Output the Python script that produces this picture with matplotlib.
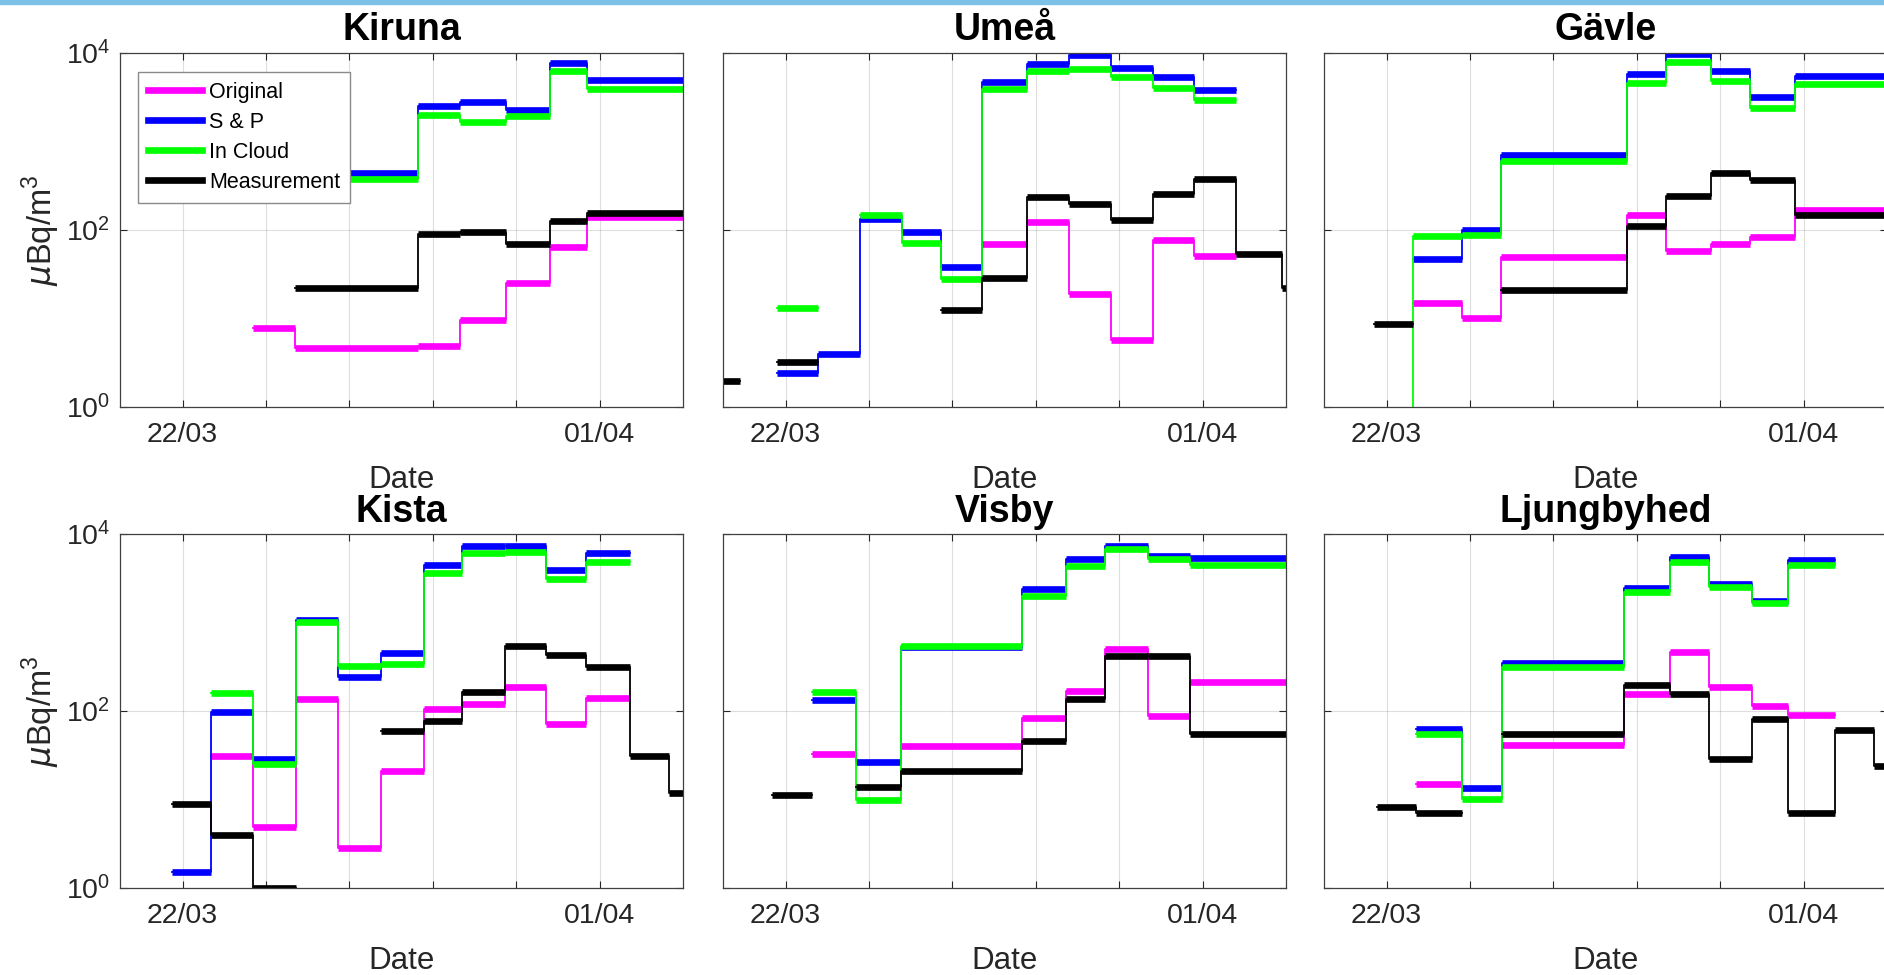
import numpy as np
import matplotlib
matplotlib.use('Agg')
import matplotlib.pyplot as plt
from matplotlib.lines import Line2D
from matplotlib.patches import Rectangle
from matplotlib.ticker import NullLocator

plt.rcParams['font.family'] = ['Liberation Sans', 'DejaVu Sans']

nan = np.nan

# x positions are days counted from 22/03 00:00
TICK_DAYS = [0, 2, 4, 6, 8, 10]
TICK_LABELS = ['22/03', '', '', '', '', '01/04']
XLIM = (-1.5, 12.0)

SERIES = ['Original', 'S & P', 'In Cloud', 'Measurement']
COLORS = ['#ff00ff', '#0000ff', '#00ff00', '#000000']

# --- Kiruna
kiruna_edges = [1.7, 2.7, 5.65, 6.65, 7.75, 8.8, 9.7, 12.7]
kiruna_orig = [7.8, 4.65, 4.9, 9.5, 25, 65, 142]
kiruna_sp = [250, 440, 2490, 2760, 2290, 7700, 5000]
kiruna_cloud = [230, 375, 1990, 1640, 1920, 6200, 3900]
kiruna_meas = [nan, 22, 90, 96, 70, 128, 155]

# --- Umeå
umea_edges = [-2.1, -1.1, -0.2, 0.78, 1.78, 2.79, 3.73, 4.72, 5.79, 6.79,
              7.8, 8.8, 9.8, 10.79, 11.91, 12.9]
umea_orig = [nan, nan, nan, nan, nan, nan, nan, 70, 124, 19, 5.7, 77, 51, nan, nan]
umea_sp = [nan, nan, 2.4, 4.0, 132, 94, 38, 4650, 7500, 9500, 6800, 5350, 3780, nan, nan]
umea_cloud = [nan, nan, 13, nan, 148, 71, 28, 3900, 6300, 6600, 5300, 3990, 2960, nan, nan]
umea_meas = [1.95, nan, 3.2, nan, nan, nan, 12.4, 29, 238, 199, 129, 255, 375, 54, 22]

# --- Gävle
gavle_edges = [-0.3, 0.645, 1.81, 2.75, 5.77, 6.69, 7.79, 8.72, 9.79, 12.9]
gavle_orig = [nan, 14.8, 10, 50, 148, 58, 69, 84, 168]
gavle_sp = [nan, 47, 101, 707, 5840, 9800, 6200, 3170, 5450]
gavle_cloud = [0.01, 86, 87, 605, 4580, 7840, 4860, 2380, 4450]
gavle_meas = [8.6, nan, nan, 21, 112, 243, 446, 368, 148]

# --- Kista
kista_edges = [-0.25, 0.69, 1.68, 2.71, 3.73, 4.77, 5.79, 6.71, 7.73, 8.71,
               9.68, 10.72, 11.67, 12.6]
kista_orig = [nan, 31, 4.9, 135, 2.8, 21, 104, 119, 188, 71, 139, nan, nan]
kista_sp = [1.5, 98, 29, 1070, 244, 447, 4420, 7380, 7250, 3940, 6090, nan, nan]
kista_cloud = [nan, 158, 25, 1025, 325, 339, 3610, 6090, 6340, 3120, 4780, nan, nan]
kista_meas = [8.9, 4.0, 1.0, nan, nan, 60, 77, 165, 547, 430, 311, 31, 11.9]

# --- Visby
visby_edges = [-0.32, 0.64, 1.68, 2.76, 5.67, 6.72, 7.66, 8.69, 9.69, 12.9]
visby_orig = [nan, 32.5, nan, 40, 84, 168, 497, 87.5, 210]
visby_sp = [nan, 132, 26.5, 533, 2380, 5210, 7380, 5690, 5350]
visby_cloud = [nan, 165, 9.9, 547, 1970, 4380, 6820, 5260, 4420]
visby_meas = [11.1, nan, 14, 21, 45.5, 136, 418, 418, 55.6]

# --- Ljungbyhed
ljung_edges = [-0.22, 0.71, 1.8, 2.77, 5.70, 6.79, 7.74, 8.77, 9.62, 10.76, 11.7, 12.7]
ljung_orig = [nan, 14.8, nan, 41.7, 155, 468, 185, 114, 91, nan, nan]
ljung_sp = [nan, 63, 13.5, 345, 2440, 5480, 2740, 1770, 5120, nan, nan]
ljung_cloud = [nan, 55.6, 10.2, 317, 2200, 4820, 2550, 1650, 4490, nan, nan]
ljung_meas = [8.2, 7.0, nan, 55.6, 196, 155, 29, 82, 7.0, 60.7, 23.7]

STATIONS = [
    ('Kiruna', kiruna_edges, [kiruna_orig, kiruna_sp, kiruna_cloud, kiruna_meas]),
    ('Umeå', umea_edges, [umea_orig, umea_sp, umea_cloud, umea_meas]),
    ('Gävle', gavle_edges, [gavle_orig, gavle_sp, gavle_cloud, gavle_meas]),
    ('Kista', kista_edges, [kista_orig, kista_sp, kista_cloud, kista_meas]),
    ('Visby', visby_edges, [visby_orig, visby_sp, visby_cloud, visby_meas]),
    ('Ljungbyhed', ljung_edges, [ljung_orig, ljung_sp, ljung_cloud, ljung_meas]),
]

W, H = 1884, 975
fig = plt.figure(figsize=(W / 100, H / 100), dpi=100)

col_left = [120, 723, 1324]
ax_w = 563
row_top = [53, 534]
ax_h = 354

AX_COLOR = '#262626'
THICK = 4.8
THIN = 1.3

for k, (name, edges, vals_list) in enumerate(STATIONS):
    r, c = divmod(k, 3)
    x0, y0 = col_left[c], row_top[r]
    ax = fig.add_axes([x0 / W, 1 - (y0 + ax_h) / H, ax_w / W, ax_h / H])
    e = np.array(edges, dtype=float)
    for vals, color in zip(vals_list, COLORS):
        v = np.array(vals, dtype=float)
        ax.step(e, np.append(v, v[-1]), where='post', color=color, lw=THIN)
        hl = ax.hlines(v, e[:-1], e[1:], colors=color, lw=THICK)
        hl.set_capstyle('butt')

    ax.set_yscale('log')
    ax.set_ylim(1, 1e4)
    ax.set_xlim(*XLIM)
    ax.set_yticks([1, 1e2, 1e4])
    ax.yaxis.set_minor_locator(NullLocator())
    ax.set_xticks(TICK_DAYS)
    ax.set_xticklabels(TICK_LABELS)
    if c == 0:
        ax.set_yticklabels([r'$\mathregular{10^0}$', r'$\mathregular{10^2}$',
                            r'$\mathregular{10^4}$'])
        ax.set_ylabel(r'$\mu$Bq/m$^{\mathregular{3}}$', fontsize=23.5,
                      color=AX_COLOR, labelpad=3)
    else:
        ax.set_yticklabels([])
    ax.tick_params(direction='in', length=5, width=0.8, top=True, right=True,
                   colors=AX_COLOR, labelsize=20.5)
    ax.tick_params(axis='x', pad=11)
    ax.tick_params(axis='y', pad=7)
    ax.grid(True, color=AX_COLOR, alpha=0.15, lw=0.8)
    for sp in ax.spines.values():
        sp.set_color('#404040')
        sp.set_linewidth(0.9)
    ax.set_xlabel('Date', fontsize=22.5, color=AX_COLOR, labelpad=12)
    ax.set_title(name, fontsize=27, fontweight='bold', pad=9)

    if k == 0:
        handles = [Line2D([], [], color=col, lw=THICK) for col in COLORS]
        leg = ax.legend(handles, SERIES, loc='upper left',
                        bbox_to_anchor=(0.032, 0.946), borderaxespad=0,
                        fontsize=15.5, handlelength=2.5, handletextpad=0.35,
                        labelspacing=0.42, fancybox=False, framealpha=1,
                        edgecolor='#8a8a8a', borderpad=0.45)
        leg.get_frame().set_linewidth(1.0)

fig.patches.append(Rectangle((0, 1 - 4 / H), 1, 4 / H, transform=fig.transFigure,
                             color='#7cc1e8', zorder=10))

fig.savefig('out.png', dpi=100)
